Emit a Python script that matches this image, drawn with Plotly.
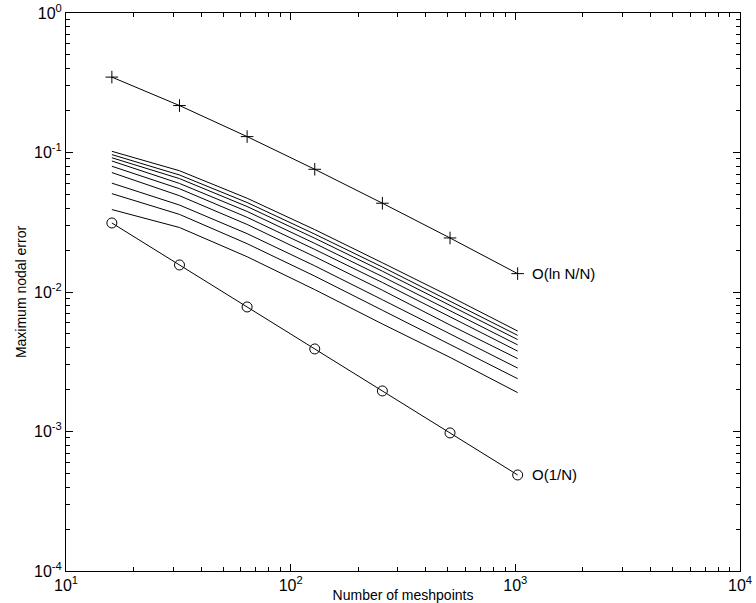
import plotly.graph_objects as go

N = [16, 32, 64, 128, 256, 512, 1024]
err_lnN = [0.347, 0.217, 0.130, 0.0758, 0.0433, 0.0244, 0.01354]
err_1N = [0.03125, 0.015625, 0.0078125, 0.00390625, 0.001953, 0.0009766, 0.000488]

mid_curves = [
    [0.102, 0.074, 0.047, 0.028, 0.0162, 0.0093, 0.00525],
    [0.0966, 0.069, 0.0438, 0.026, 0.0151, 0.0086, 0.00489],
    [0.0917, 0.065, 0.041, 0.0243, 0.0141, 0.0080, 0.00456],
    [0.0869, 0.060, 0.0378, 0.0223, 0.0129, 0.0073, 0.00418],
    [0.0797, 0.055, 0.0343, 0.0202, 0.0117, 0.0066, 0.00377],
    [0.0718, 0.049, 0.0305, 0.0179, 0.0103, 0.0058, 0.00333],
    [0.0603, 0.042, 0.0262, 0.0154, 0.0088, 0.0050, 0.00285],
    [0.0507, 0.036, 0.0222, 0.0130, 0.0074, 0.0042, 0.00239],
    [0.039, 0.029, 0.0179, 0.0104, 0.0059, 0.0034, 0.0019],
]

x_tickvals = [10, 100, 1000, 10000]
x_ticktext = ["10<sup>1</sup>", "10<sup>2</sup>", "10<sup>3</sup>", "10<sup>4</sup>"]
y_tickvals = [1e-4, 1e-3, 1e-2, 1e-1, 1]
y_ticktext = ["10<sup>-4</sup>", "10<sup>-3</sup>", "10<sup>-2</sup>", "10<sup>-1</sup>", "10<sup>0</sup>"]

fig = go.Figure()
for c in mid_curves:
    fig.add_trace(go.Scatter(x=N, y=c, mode="lines", line=dict(color="black", width=1),
                             showlegend=False, hoverinfo="skip"))
fig.add_trace(go.Scatter(x=N, y=err_lnN, mode="lines+markers", line=dict(color="black", width=1),
                         marker=dict(symbol="cross-thin", size=9, line=dict(color="black", width=1)),
                         showlegend=False))
fig.add_trace(go.Scatter(x=N, y=err_1N, mode="lines+markers", line=dict(color="black", width=1),
                         marker=dict(symbol="circle-open", size=10, color="black", line=dict(color="black", width=1)),
                         showlegend=False))

fig.add_annotation(x=3.065, y=-1.868, xref="x", yref="y", text="O(ln N/N)", showarrow=False,
                   xanchor="left", yanchor="middle", font=dict(size=15, color="black"))
fig.add_annotation(x=3.065, y=-3.311, xref="x", yref="y", text="O(1/N)", showarrow=False,
                   xanchor="left", yanchor="middle", font=dict(size=15, color="black"))

axis_common = dict(showline=True, linecolor="black", linewidth=1, mirror="allticks",
                   ticks="inside", ticklen=7, tickcolor="black", showgrid=False, zeroline=False,
                   automargin=False, tickfont=dict(size=16, color="black"),
                   minor=dict(ticks="inside", ticklen=4, tickcolor="black", dtick="D1", showgrid=False))

fig.update_xaxes(type="log", range=[1, 4], tickvals=x_tickvals, ticktext=x_ticktext,
                 title=dict(text="Number of meshpoints", font=dict(size=14, color="black"), standoff=0),
                 **axis_common)
fig.update_yaxes(type="log", range=[-4, 0], tickvals=y_tickvals, ticktext=y_ticktext,
                 title=dict(text="Maximum nodal error", font=dict(size=14, color="black"), standoff=4),
                 **axis_common)

fig.update_layout(width=756, height=603, margin=dict(l=66, r=16, t=13, b=32),
                  plot_bgcolor="white", paper_bgcolor="white",
                  font=dict(family="Liberation Sans, Arial, sans-serif", color="black"))

fig.write_html("out.html")
